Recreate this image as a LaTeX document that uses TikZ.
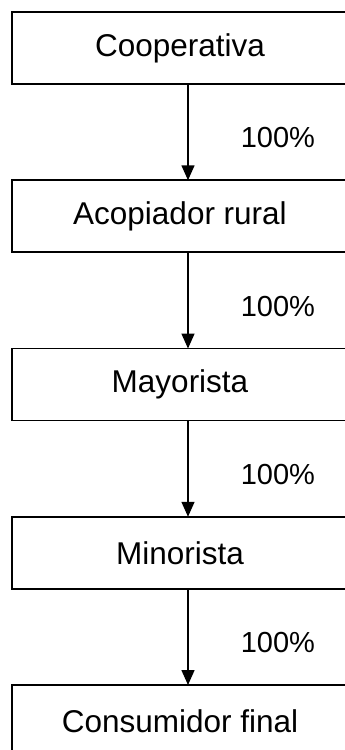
\documentclass[tikz,border=0pt]{standalone}
\usepackage{fontspec}
\setmainfont{Liberation Sans}
\usetikzlibrary{positioning, arrows.meta}

\begin{document}
\begin{tikzpicture}[node distance = 96.25pt, thick,
  stage/.style={rectangle, draw, line width = 1.8pt, outer sep = 0pt, minimum width = 336pt, minimum height = 72pt, align = center, font = \fontsize{31.5}{36}\selectfont},
  flow/.style={line width = 1.6pt, -{Triangle[width = 13pt, length = 15pt]}},
  share/.style={inner sep = 0pt, anchor = west, font = \fontsize{29}{34}\selectfont}]
  \useasboundingbox (0,0) rectangle (345pt,-750pt);
  \clip (0,0) rectangle (345pt,-750pt);
  % nodes
  \node [stage] (coop) at (180pt,-48pt) {Cooperativa};
  \node [stage][below = of coop] (acop) {Acopiador rural};
  \node [stage][below = of acop] (mayor) {Mayorista};
  \node [stage][below = of mayor] (minor) {Minorista};
  \node [stage][below = of minor] (cons) {Consumidor final};

  % edges
  \foreach \a/\b in {coop/acop, acop/mayor, mayor/minor, minor/cons}
    \draw [flow] ([xshift = 8pt]\a.south) -- node [share, pos = 0.56, xshift = 52pt] {100\%} ([xshift = 8pt]\b.north);
\end{tikzpicture}
\end{document}
